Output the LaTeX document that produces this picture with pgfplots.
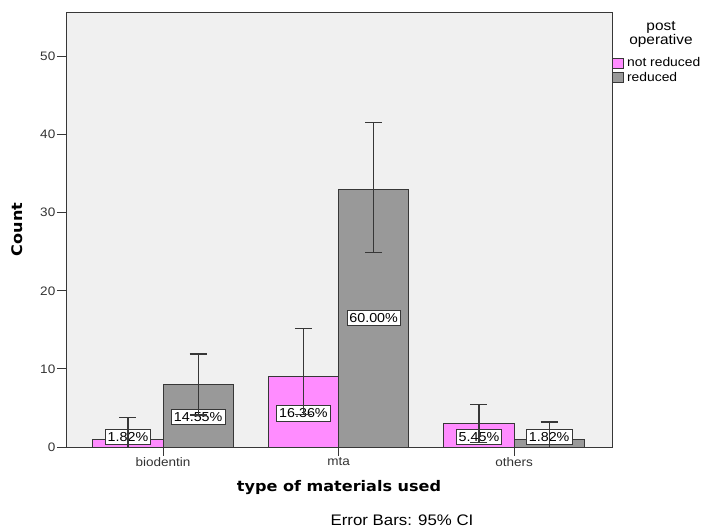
\documentclass[border=0pt]{standalone}
\usepackage{pgfplots}
\pgfplotsset{compat=1.18}
\usepackage{fontspec}
\setmainfont[FakeStretch=1.1]{Liberation Sans}
\newfontfamily\titlefont[FakeStretch=1.1]{DejaVu Sans}
\definecolor{pinkbar}{RGB}{255,140,255}
\definecolor{graybar}{RGB}{153,153,153}
\definecolor{bgc}{RGB}{240,240,240}
\definecolor{edge}{RGB}{55,55,55}
\begin{document}
\begin{tikzpicture}
\path[use as bounding box] (0pt,0pt) rectangle (706pt,527pt);
\begin{axis}[
  at={(66pt,80pt)}, anchor=south west,
  scale only axis, width=546pt, height=435pt,
  xmin=-0.553, xmax=2.558, ymin=0, ymax=55.7,
  axis background/.style={fill=bgc},
  xtick={0,1,2}, xticklabels={biodentin,mta,others},
  ytick={0,10,20,30,40,50},
  tick align=outside, tick pos=left,
  major tick length=9pt,
  tick style={edge, line width=0.9pt},
  axis line style={edge, line width=0.9pt},
  ticklabel style={font=\fontsize{12.3}{13}\selectfont, text=black!80},
  yticklabel style={inner xsep=1.5pt},
  xticklabel style={inner ysep=1.5pt},
  /pgf/number format/assume math mode=true,
  xlabel={type of materials used}, ylabel={Count},
  xlabel style={at={(axis description cs:0.5,-0.094)}, anchor=center, font=\titlefont\bfseries\fontsize{14.6}{16}\selectfont},
  ylabel style={at={(axis description cs:-0.089,0.5)}, anchor=center, font=\titlefont\bfseries\fontsize{14.6}{16}\selectfont},
  legend style={at={(axis description cs:1.0,0.9)}, anchor=north west, draw=none, fill=none,
    font=\fontsize{12.6}{13}\selectfont, inner sep=0pt, row sep=0pt, column sep=1pt},
  legend cell align=left,
  legend image code/.code={\draw[#1] (0pt,-5pt) rectangle (11pt,5pt);},
]
\addplot[ybar, bar width=0.4, bar shift=-0.2, fill=pinkbar, draw=edge, line width=0.9pt]
  coordinates {(0,1) (1,9) (2,3)};
\addlegendentry{not reduced}
\addplot[ybar, bar width=0.4, bar shift=0.2, fill=graybar, draw=edge, line width=0.9pt]
  coordinates {(0,8) (1,33) (2,1)};
\addlegendentry{reduced}

\tikzset{lbl/.style={fill=white, draw=edge, line width=0.8pt, inner xsep=2.5pt, inner ysep=3pt, font=\fontsize{13}{14}\selectfont}}
\node[lbl] at (axis cs:-0.2,1.3) {1.82\%};
\node[lbl] at (axis cs:0.2,3.85) {14.55\%};
\node[lbl] at (axis cs:0.8,4.3) {16.36\%};
\node[lbl] at (axis cs:1.2,16.5) {60.00\%};
\node[lbl] at (axis cs:1.8,1.3) {5.45\%};
\node[lbl] at (axis cs:2.2,1.3) {1.82\%};

\addplot[draw=none, mark=none, forget plot,
  error bars/.cd, y dir=both, y explicit,
  error bar style={edge, line width=1.2pt},
  error mark options={edge, line width=1.2pt, mark size=8.5pt, rotate=90}]
  coordinates {
  (-0.2,1) += (0,2.8) -= (0,2.8)
  (0.2,8) += (0,3.9) -= (0,3.9)
  (0.8,9) += (0,6.2) -= (0,4.8)
  (1.2,33) += (0,8.5) -= (0,8.1)
  (1.8,3) += (0,2.4) -= (0,2.4)
  (2.2,1) += (0,2.2) -= (0,2.2)
  };
\end{axis}
\node[align=center, font=\fontsize{14}{14}\selectfont] at (661pt,493pt) {post\\operative};
\node[font=\fontsize{15.3}{16}\selectfont] at (402pt,7pt) {Error Bars: 95\% CI};
\end{tikzpicture}
\end{document}
